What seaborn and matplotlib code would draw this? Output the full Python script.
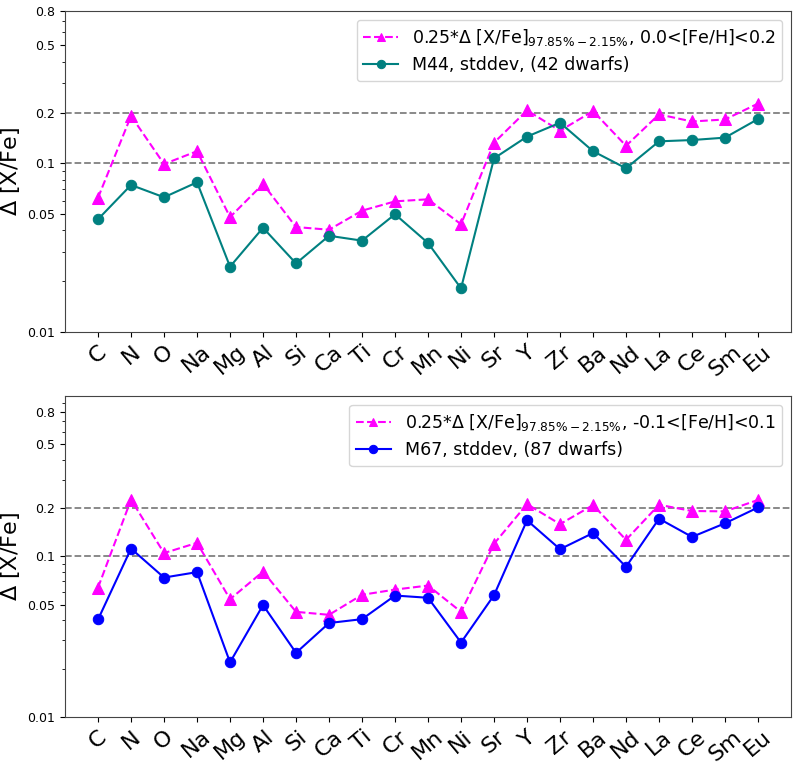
import numpy as np
import matplotlib
matplotlib.use("Agg")
import matplotlib.pyplot as plt
import seaborn as sns
from matplotlib.ticker import FixedLocator, NullFormatter

elements = ["C", "N", "O", "Na", "Mg", "Al", "Si", "Ca", "Ti", "Cr", "Mn",
            "Ni", "Sr", "Y", "Zr", "Ba", "Nd", "La", "Ce", "Sm", "Eu"]

# M44 panel
m44_range = [0.0625, 0.191, 0.099, 0.118, 0.048, 0.0754, 0.0419, 0.0404, 0.0524, 0.0595, 0.0612,
             0.0435, 0.1325, 0.206, 0.156, 0.204, 0.127, 0.195, 0.177, 0.182, 0.226]
m44_std = [0.0466, 0.0744, 0.0629, 0.0772, 0.0244, 0.0415, 0.0255, 0.0372, 0.0348, 0.0499, 0.0337,
           0.01815, 0.107, 0.144, 0.174, 0.118, 0.0934, 0.135, 0.1374, 0.142, 0.183]

# M67 panel
m67_range = [0.064, 0.226, 0.105, 0.1216, 0.0542, 0.0805, 0.0452, 0.0433, 0.0577, 0.0622, 0.0659,
             0.0452, 0.120, 0.212, 0.159, 0.209, 0.127, 0.21, 0.192, 0.191, 0.225]
m67_std = [0.0405, 0.112, 0.0739, 0.0799, 0.0219, 0.0498, 0.0251, 0.0385, 0.0407, 0.0571, 0.0553,
           0.0291, 0.0574, 0.168, 0.111, 0.140, 0.0862, 0.172, 0.1324, 0.161, 0.202]

panels = [
    dict(rng=m44_range, std=m44_std, color="teal",
         lab1=r"0.25*$\Delta$ [X/Fe]$_{97.85\%-2.15\%}$, 0.0<[Fe/H]<0.2",
         lab2="M44, stddev, (42 dwarfs)", ymax=0.8),
    dict(rng=m67_range, std=m67_std, color="blue",
         lab1=r"0.25*$\Delta$ [X/Fe]$_{97.85\%-2.15\%}$, -0.1<[Fe/H]<0.1",
         lab2="M67, stddev, (87 dwarfs)", ymax=1.0),
]

x = np.arange(len(elements))

fig = plt.figure(figsize=(7.97, 7.79), dpi=100)
ax_top = fig.add_axes([0.0816, 0.5738, 0.9109, 0.4121])
ax_bot = fig.add_axes([0.0816, 0.0796, 0.9109, 0.4121])

for ax, p in zip([ax_top, ax_bot], panels):
    sns.lineplot(x=x, y=p["rng"], ax=ax, color="magenta", linestyle="--",
                 marker="^", markersize=8, markeredgecolor="magenta",
                 linewidth=1.5, label=p["lab1"])
    sns.lineplot(x=x, y=p["std"], ax=ax, color=p["color"], linestyle="-",
                 marker="o", markersize=7.5, markeredgecolor=p["color"],
                 linewidth=1.5, label=p["lab2"])
    ax.axhline(0.1, color="gray", linestyle="--", linewidth=1.3, zorder=0)
    ax.axhline(0.2, color="gray", linestyle="--", linewidth=1.3, zorder=0)
    ax.set_yscale("log")
    ax.set_ylim(0.01, p["ymax"])
    ax.set_xlim(-1, len(elements))
    ax.yaxis.set_major_locator(FixedLocator([0.01, 0.05, 0.1, 0.2, 0.5, 0.8]))
    ax.set_yticklabels(["0.01", "0.05", "0.1", "0.2", "0.5", "0.8"], fontsize=9)
    ax.yaxis.set_minor_formatter(NullFormatter())
    ax.set_xticks(x)
    ax.set_xticklabels(elements, rotation=40, fontsize=16)
    ax.set_xlabel("")
    ax.set_ylabel(r"$\Delta$ [X/Fe]", fontsize=16)
    for s in ax.spines.values():
        s.set_color("#444444")
    ax.legend(loc="upper right", fontsize=12.5, markerscale=0.8)

fig.savefig("out.png", dpi=100)
